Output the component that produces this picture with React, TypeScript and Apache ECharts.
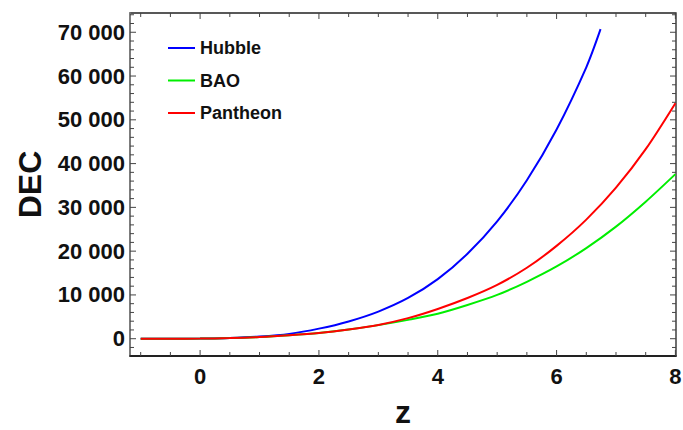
import React, { useEffect, useRef } from "react";
import * as echarts from "echarts";

// Redshift values (z)
const zValues = [-1, -0.5, 0, 0.5, 1, 1.5, 2, 2.5, 3, 3.5, 4, 4.5, 5, 5.5, 6, 6.5, 7, 7.5, 8];
const hubbleZ = [-1, -0.5, 0, 0.5, 1, 1.5, 2, 2.5, 3, 3.5, 4, 4.5, 5, 5.5, 6, 6.5, 6.74];

// DEC values
const hubbleDEC = [0, 3, 45, 180, 500, 1100, 2300, 3950, 6200, 9300, 13600, 19400, 26800, 36200, 47800, 62000, 70700];
const baoDEC = [0, 3, 35, 140, 380, 780, 1300, 2100, 3100, 4300, 5700, 7700, 10000, 13000, 16500, 20700, 25600, 31300, 37600];
const pantheonDEC = [0, 3, 35, 140, 380, 780, 1300, 2100, 3150, 4700, 6800, 9300, 12300, 16200, 21200, 27200, 34500, 43300, 53800];

const seriesNames = ["Hubble", "BAO", "Pantheon"];
const seriesColors = ["#0000ff", "#00ee00", "#ff0000"];

// Tick positions
const xMajorTicks = [0, 2, 4, 6, 8];
const xMinorTicks = [-1, -0.5, 0.5, 1, 1.5, 2.5, 3, 3.5, 4.5, 5, 5.5, 6.5, 7, 7.5];
const yMajorTicks = [0, 10000, 20000, 30000, 40000, 50000, 60000, 70000];
const yMinorTicks = [-2000, 2000, 4000, 6000, 8000, 12000, 14000, 16000, 18000, 22000, 24000, 26000, 28000, 32000, 34000, 36000, 38000, 42000, 44000, 46000, 48000, 52000, 54000, 56000, 58000, 62000, 64000, 66000, 68000, 72000, 74000];

const X_MIN = -1.18;
const X_MAX = 8.01;
const Y_MIN = -3950;
const Y_MAX = 74400;

const FONT = "'Liberation Sans', Arial, sans-serif";

function fmt(v: number): string {
  const s = String(Math.round(v));
  if (s.length <= 3) return s;
  return s.slice(0, s.length - 3) + " " + s.slice(s.length - 3);
}

export default function App() {
  const ref = useRef<HTMLDivElement>(null);
  useEffect(() => {
    if (!ref.current) return;
    const chart = echarts.init(ref.current, undefined, { renderer: "svg" });

    const pairs = (xs: number[], ys: number[]) => xs.map((x, i) => [x, ys[i]]);
    const MAJOR = 6;
    const MINOR = 4;
    const xTickData = [...xMajorTicks.map((v) => [v, MAJOR]), ...xMinorTicks.map((v) => [v, MINOR])];
    const yTickData = [...yMajorTicks.map((v) => [v, MAJOR]), ...yMinorTicks.map((v) => [v, MINOR])];
    const tickStyle = { stroke: "#444", lineWidth: 1, fill: null };

    const lineSeries = (name: string, color: string, data: number[][], z: number) => ({
      name,
      type: "line",
      data,
      smooth: 0.3,
      showSymbol: false,
      symbol: "none",
      lineStyle: { color, width: 2 },
      itemStyle: { color },
      z,
    });

    const option: any = {
      animation: false,
      backgroundColor: "#ffffff",
      grid: {
        left: 130,
        right: 7,
        top: 13,
        bottom: 74,
        containLabel: false,
        outerBoundsMode: "none",
        show: true,
        borderColor: "#222",
        borderWidth: 1.3,
        backgroundColor: "transparent",
      },
      legend: {
        show: true,
        orient: "vertical",
        left: 163,
        top: 34,
        itemWidth: 27,
        itemHeight: 2,
        itemGap: 14.5,
        icon: "rect",
        data: seriesNames,
        textStyle: { fontFamily: FONT, fontWeight: "bold", fontSize: 18, color: "#111" },
      },
      xAxis: {
        type: "value",
        min: X_MIN,
        max: X_MAX,
        splitLine: { show: false },
        axisLine: { show: true, onZero: false, lineStyle: { color: "#111", width: 1.5 } },
        axisTick: { show: false },
        axisLabel: {
          show: true,
          customValues: xMajorTicks,
          margin: 9,
          fontFamily: FONT,
          fontWeight: "bold",
          fontSize: 22,
          color: "#111",
        },
        name: "z",
        nameLocation: "middle",
        nameGap: 40,
        nameTextStyle: { fontFamily: FONT, fontWeight: "bold", fontSize: 32, color: "#111" },
      },
      yAxis: {
        type: "value",
        min: Y_MIN,
        max: Y_MAX,
        splitLine: { show: false },
        axisLine: { show: true, onZero: false, lineStyle: { color: "#808080", width: 1.6 } },
        axisTick: { show: false },
        axisLabel: {
          show: true,
          customValues: yMajorTicks,
          margin: 5,
          fontFamily: FONT,
          fontWeight: "bold",
          fontSize: 22,
          color: "#111",
          formatter: (v: number) => fmt(v),
        },
        name: "DEC",
        nameLocation: "middle",
        nameGap: 84,
        nameTextStyle: { fontFamily: FONT, fontWeight: "bold", fontSize: 32, color: "#111" },
      },
      series: [
        {
          type: "custom",
          name: "xticks",
          silent: true,
          clip: false,
          data: xTickData,
          encode: { x: 0, y: 1 },
          renderItem: (_p: any, api: any) => {
            const v = api.value(0);
            const len = api.value(1);
            const b = api.coord([v, Y_MIN]);
            const t = api.coord([v, Y_MAX]);
            return {
              type: "group",
              children: [
                { type: "line", shape: { x1: b[0], y1: b[1], x2: b[0], y2: b[1] - len }, style: tickStyle },
                { type: "line", shape: { x1: t[0], y1: t[1], x2: t[0], y2: t[1] + len }, style: tickStyle },
              ],
            };
          },
          z: 10,
        },
        {
          type: "custom",
          name: "yticks",
          silent: true,
          clip: false,
          data: yTickData,
          encode: { x: 1, y: 0 },
          renderItem: (_p: any, api: any) => {
            const v = api.value(0);
            const len = api.value(1);
            const l = api.coord([X_MIN, v]);
            const r = api.coord([X_MAX, v]);
            return {
              type: "group",
              children: [
                { type: "line", shape: { x1: l[0], y1: l[1], x2: l[0] + len, y2: l[1] }, style: tickStyle },
                { type: "line", shape: { x1: r[0], y1: r[1], x2: r[0] - len, y2: r[1] }, style: tickStyle },
              ],
            };
          },
          z: 10,
        },
        lineSeries(seriesNames[0], seriesColors[0], pairs(hubbleZ, hubbleDEC), 3),
        lineSeries(seriesNames[1], seriesColors[1], pairs(zValues, baoDEC), 4),
        lineSeries(seriesNames[2], seriesColors[2], pairs(zValues, pantheonDEC), 5),
      ],
    };
    chart.setOption(option);
    return () => chart.dispose();
  }, []);

  return (
    <div
      ref={ref}
      style={{ position: "fixed", left: 0, top: 0, width: 683, height: 430, background: "#fff" }}
    />
  );
}
